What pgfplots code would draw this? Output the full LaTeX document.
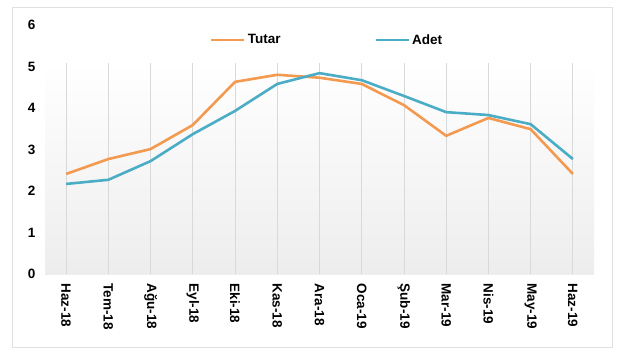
\documentclass[border=0pt]{standalone}
\usepackage{fontspec}
\setmainfont{Liberation Sans}
\usepackage{pgfplots}
\pgfplotsset{compat=1.18}
\definecolor{tutar}{HTML}{F39A50}
\definecolor{adet}{HTML}{4BACC6}
\begin{document}
\begin{tikzpicture}[x=1pt,y=1pt]
\path[use as bounding box] (0,0) rectangle (620,356);
\fill[white] (0,0) rectangle (620,356);
\draw[black!12, line width=1pt] (12,9) rectangle (612,348);
\begin{axis}[
  at={(45pt,82pt)}, anchor=south west,
  scale only axis, width=549pt, height=249pt,
  xmin=-0.5, xmax=12.5, ymin=0, ymax=6,
  axis lines*=left,
  x axis line style={draw=black!20},
  y axis line style={draw=none},
  ytick={0,1,2,3,4,5,6},
  ytick style={draw=none},
  xtick={0,...,12},
  xticklabels={Haz-18,Tem-18,Ağu-18,Eyl-18,Eki-18,Kas-18,Ara-18,Oca-19,Şub-19,Mar-19,Nis-19,May-19,Haz-19},
  xtick style={draw=none},
  extra x ticks={-0.5,0.5,1.5,2.5,3.5,4.5,5.5,6.5,7.5,8.5,9.5,10.5,11.5,12.5},
  extra x tick labels={},
  extra x tick style={tick style={draw=black!25}, major tick length=4pt, tick align=outside},
  /pgf/number format/assume math mode=true,
  ticklabel style={font=\fontsize{13.5}{15}\selectfont\bfseries},
  xticklabel style={rotate=-90, anchor=west, xshift=6pt},
  yticklabel style={anchor=east, xshift=-6pt},
  legend style={at={(0.295,0.94)}, anchor=west, draw=none, fill=none,
    font=\fontsize{13.5}{15}\selectfont\bfseries, legend columns=2,
    /tikz/every even column/.append style={column sep=92pt}},
  legend image code/.code={\draw[#1] (0pt,0pt) -- (33pt,0pt);},
  legend cell align=left,
  clip=false,
]
\fill[top color=white, bottom color=black!7] (axis cs:-0.5,0) rectangle (axis cs:12.5,5.08);
\pgfplotsinvokeforeach{0,...,12}{\draw[black!15, line width=0.8pt] (axis cs:#1,0) -- (axis cs:#1,5.08);}
\addplot[tutar, line width=2.6pt] coordinates {
 (0,2.41) (1,2.77) (2,3.01) (3,3.59) (4,4.63) (5,4.80) (6,4.73)
 (7,4.58) (8,4.07) (9,3.33) (10,3.76) (11,3.49) (12,2.41)};
\addlegendentry{Tutar}
\addplot[adet, line width=2.6pt] coordinates {
 (0,2.17) (1,2.27) (2,2.72) (3,3.37) (4,3.93) (5,4.58) (6,4.84)
 (7,4.67) (8,4.29) (9,3.90) (10,3.83) (11,3.61) (12,2.77)};
\addlegendentry{Adet}
\end{axis}
\end{tikzpicture}
\end{document}
